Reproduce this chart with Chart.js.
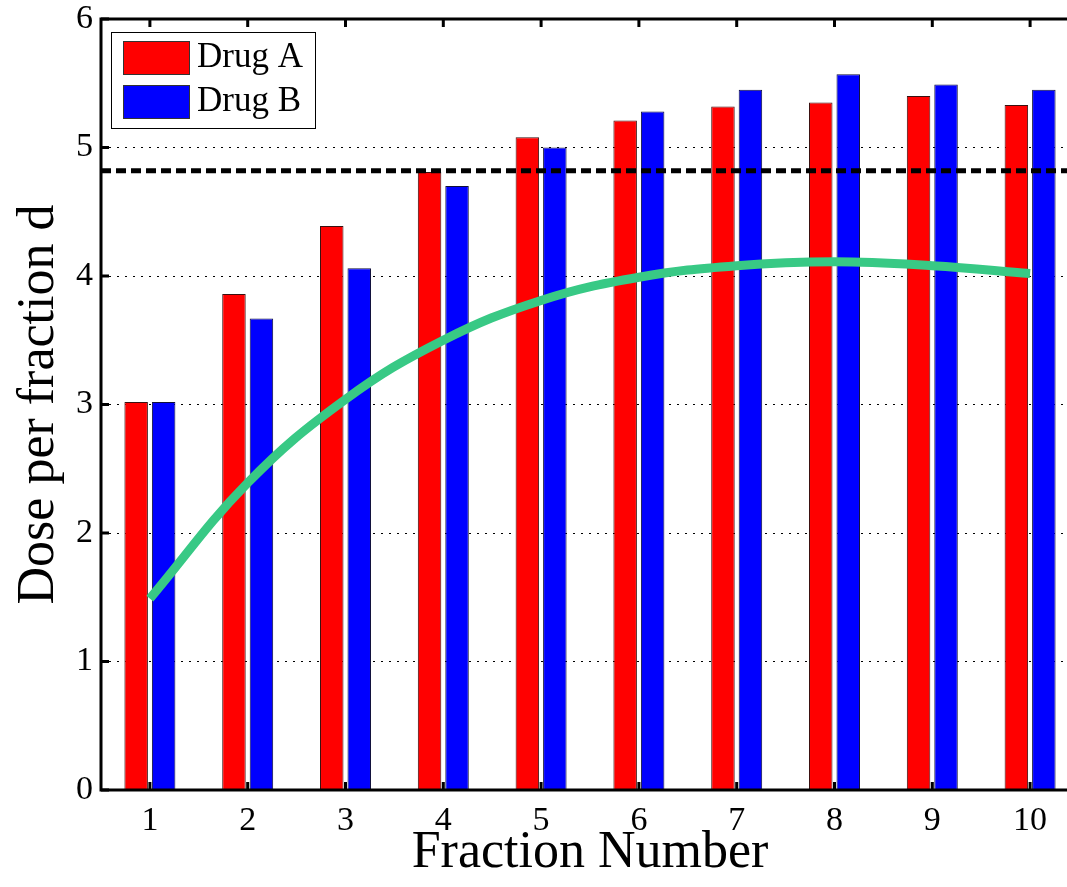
<!DOCTYPE html>
<html>
<head>
<meta charset="utf-8">
<script src="https://cdn.jsdelivr.net/npm/chart.js@4"></script>
<style>
  html, body { margin: 0; padding: 0; background: #fff; overflow: hidden; }
  #wrap { width: 1080px; height: 887px; position: relative; }
</style>
</head>
<body>
<div id="wrap"><canvas id="chart"></canvas></div>
<script>
  // Data
  const fractions = ['1', '2', '3', '4', '5', '6', '7', '8', '9', '10'];
  const drugA = [3.02, 3.86, 4.39, 4.81, 5.08, 5.21, 5.32, 5.35, 5.40, 5.33];
  const drugB = [3.02, 3.67, 4.06, 4.70, 5.00, 5.28, 5.45, 5.57, 5.49, 5.45];
  const fitCurve = [1.49, 2.39, 3.04, 3.50, 3.81, 3.99, 4.08, 4.11, 4.08, 4.02];
  const threshold = 4.82;
  const yTicks = [0, 1, 2, 3, 4, 5, 6];

  const SERIF = '"Liberation Serif", "Times New Roman", serif';

  // axis frame + inward tick marks, drawn like the original MATLAB axes
  const framePlugin = {
    id: 'frame',
    afterDatasetsDraw(chart) {
      const { ctx, chartArea: a, scales: { x, y } } = chart;
      ctx.save();

      // dashed threshold
      const ty = y.getPixelForValue(threshold);
      ctx.strokeStyle = '#000';
      ctx.lineWidth = 5;
      ctx.setLineDash([10, 5]);
      ctx.beginPath();
      ctx.moveTo(a.left, ty);
      ctx.lineTo(a.right, ty);
      ctx.stroke();
      ctx.setLineDash([]);

      ctx.lineWidth = 3;
      ctx.beginPath();
      ctx.moveTo(a.right + 5, a.top);
      ctx.lineTo(a.left, a.top);
      ctx.lineTo(a.left, a.bottom);
      ctx.lineTo(a.right + 5, a.bottom);
      ctx.stroke();

      const len = 8;
      ctx.beginPath();
      fractions.forEach((f, i) => {
        const px = x.getPixelForValue(i);
        ctx.moveTo(px, a.bottom);
        ctx.lineTo(px, a.bottom - len);
        ctx.moveTo(px, a.top);
        ctx.lineTo(px, a.top + len);
      });
      yTicks.forEach((v) => {
        const py = y.getPixelForValue(v);
        ctx.moveTo(a.left, py);
        ctx.lineTo(a.left + len, py);
      });
      ctx.stroke();
      ctx.restore();
    },
    afterDraw(chart) {
      const { ctx, chartArea: a } = chart;
      ctx.save();

      // y-axis title
      ctx.fillStyle = '#000';
      ctx.font = '52px ' + SERIF;
      ctx.textAlign = 'center';
      ctx.textBaseline = 'alphabetic';
      ctx.translate(53, (a.top + a.bottom) / 2);
      ctx.rotate(-Math.PI / 2);
      ctx.fillText('Dose per fraction d', 0, 0);
      ctx.restore();

      // legend box
      ctx.save();
      const bx = 111, by = 32, bw = 204, bh = 96;
      ctx.fillStyle = '#fff';
      ctx.fillRect(bx, by, bw, bh);
      ctx.strokeStyle = '#000';
      ctx.lineWidth = 1;
      ctx.strokeRect(bx + 0.5, by + 0.5, bw, bh);
      chart.data.datasets.filter((d) => d.type === 'bar').forEach((d, i) => {
        const sy = 41 + i * 44;
        ctx.fillStyle = d.backgroundColor;
        ctx.fillRect(123, sy, 66, 33);
        ctx.strokeStyle = '#333';
        ctx.strokeRect(123.5, sy + 0.5, 66, 33);
        ctx.fillStyle = '#000';
        ctx.font = '35px ' + SERIF;
        ctx.textAlign = 'left';
        ctx.textBaseline = 'middle';
        ctx.fillText(d.label, 197, sy + 17);
      });
      ctx.restore();
    },
  };

  new Chart(document.getElementById('chart'), {
    data: {
      labels: fractions,
      datasets: [
        {
          type: 'line',
          label: 'Fit',
          data: fitCurve,
          borderColor: '#38c985',
          borderWidth: 9,
          pointRadius: 0,
          tension: 0.4,
          order: 0,
        },
        {
          type: 'bar',
          label: 'Drug A',
          data: drugA,
          backgroundColor: '#ff0000',
          borderColor: '#3a1010',
          borderWidth: 1,
          categoryPercentage: 0.562,
          barPercentage: 0.855,
          order: 1,
        },
        {
          type: 'bar',
          label: 'Drug B',
          data: drugB,
          backgroundColor: '#0000ff',
          borderColor: '#10103a',
          borderWidth: 1,
          categoryPercentage: 0.562,
          barPercentage: 0.855,
          order: 1,
        },
      ],
    },
    options: {
      responsive: true,
      maintainAspectRatio: false,
      animation: false,
      layout: { padding: { top: 19, right: 1, left: 0, bottom: 0 } },
      plugins: {
        legend: { display: false },
        tooltip: { enabled: false },
      },
      scales: {
        x: {
          offset: true,
          grid: { display: false, drawTicks: false },
          border: { display: false },
          ticks: { color: '#000', font: { family: SERIF, size: 34 }, padding: 11, maxRotation: 0 },
          title: {
            display: true,
            text: 'Fraction Number',
            color: '#000',
            font: { family: SERIF, size: 52 },
            padding: { top: 0, bottom: 2 },
          },
          afterFit: (scale) => {
            scale.height = 97;
            scale.paddingLeft = 0;
            scale.paddingRight = 0;
          },
        },
        y: {
          min: 0,
          max: 6,
          ticks: { stepSize: 1, color: '#000', font: { family: SERIF, size: 34 }, padding: 8 },
          grid: {
            drawTicks: false,
            lineWidth: 1,
            color: (c) => (c.tick && c.tick.value > 0 && c.tick.value < 6 ? '#000' : 'rgba(0,0,0,0)'),
          },
          border: { display: false, dash: [2, 6] },
          afterFit: (scale) => {
            scale.width = 101;
            scale.paddingTop = 0;
            scale.paddingBottom = 0;
          },
        },
      },
    },
    plugins: [framePlugin],
  });
</script>
</body>
</html>
